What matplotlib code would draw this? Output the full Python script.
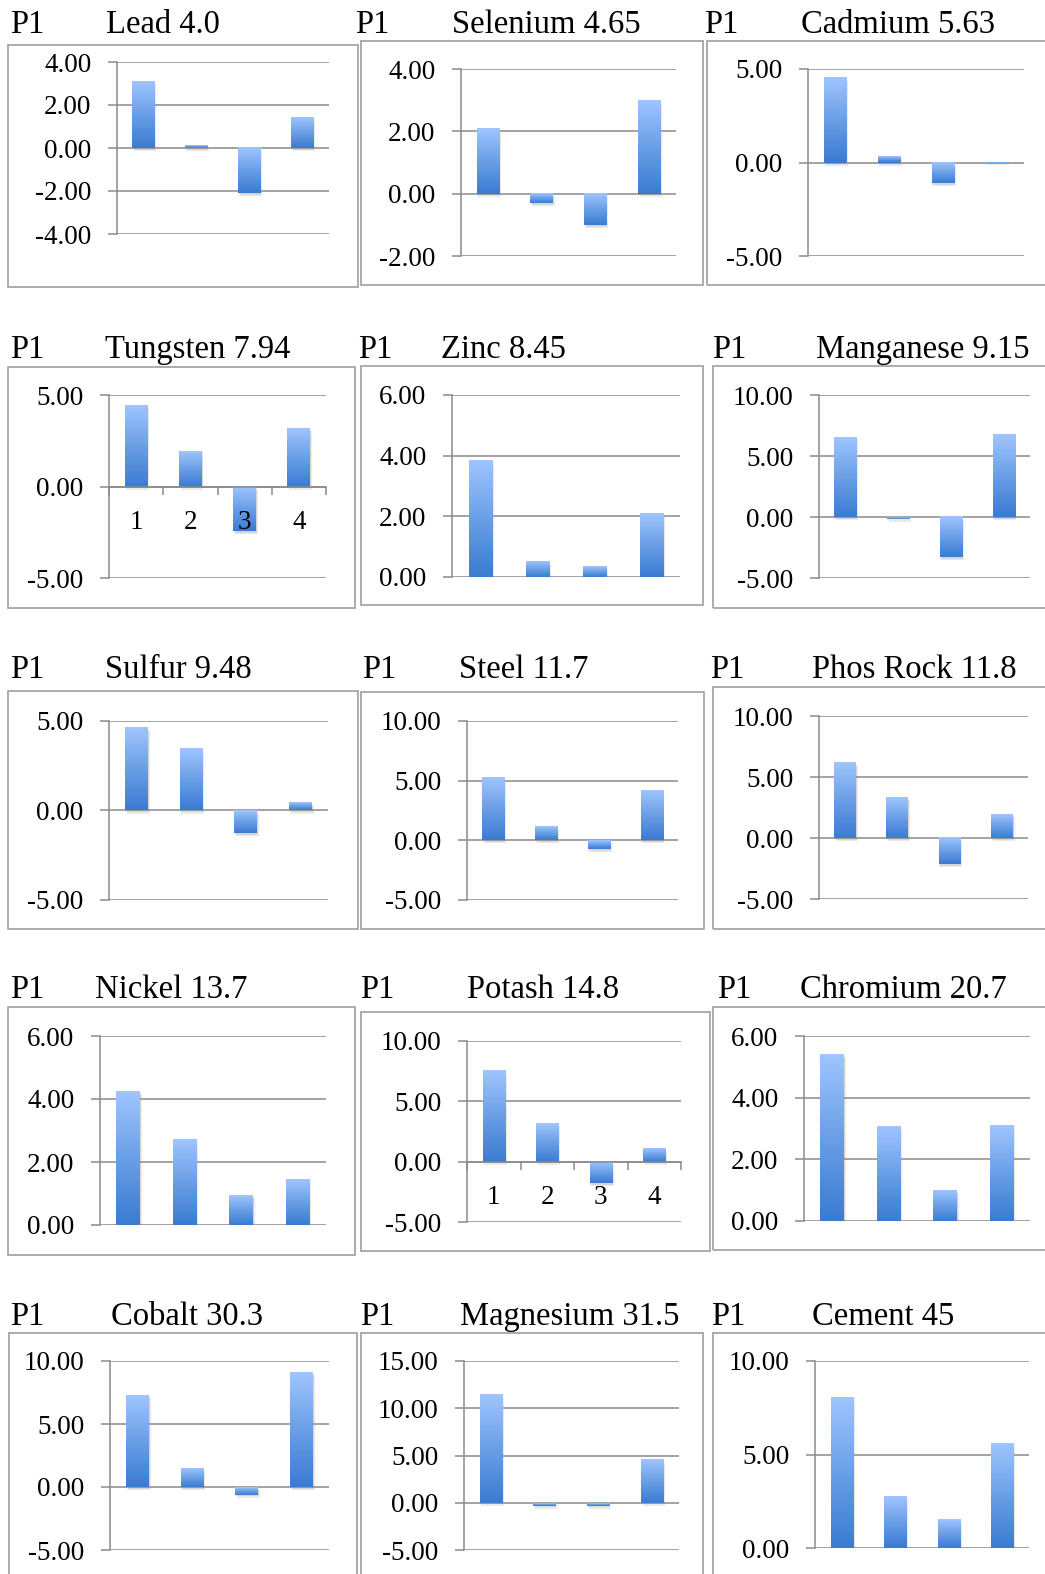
import numpy as np
import matplotlib
matplotlib.use("Agg")
import matplotlib.pyplot as plt
import matplotlib.patheffects as pe
from matplotlib.colors import LinearSegmentedColormap
from matplotlib.patches import Rectangle

plt.rcParams["font.family"] = ["Liberation Serif", "DejaVu Serif"]
plt.rcParams["axes.unicode_minus"] = False

# ---- data -------------------------------------------------------------
materials = ["Lead", "Selenium", "Cadmium",
             "Tungsten", "Zinc", "Manganese",
             "Sulfur", "Steel", "Phos Rock",
             "Nickel", "Potash", "Chromium",
             "Cobalt", "Magnesium", "Cement"]
scores = ["4.0", "4.65", "5.63",
          "7.94", "8.45", "9.15",
          "9.48", "11.7", "11.8",
          "13.7", "14.8", "20.7",
          "30.3", "31.5", "45"]
period = "P1"
categories = ["1", "2", "3", "4"]

lead = [3.1, 0.1, -2.1, 1.4]
selenium = [2.1, -0.3, -1.0, 3.0]
cadmium = [4.5, 0.3, -1.1, -0.05]
tungsten = [4.45, 1.95, -2.45, 3.2]
zinc = [3.85, 0.5, 0.35, 2.1]
manganese = [6.55, -0.15, -3.3, 6.8]
sulfur = [4.6, 3.45, -1.25, 0.4]
steel = [5.2, 1.1, -0.75, 4.15]
phos_rock = [6.15, 3.35, -2.15, 1.95]
nickel = [4.25, 2.7, 0.95, 1.45]
potash = [7.55, 3.2, -1.8, 1.1]
chromium = [5.4, 3.05, 1.0, 3.1]
cobalt = [7.3, 1.5, -0.6, 9.1]
magnesium = [11.5, -0.3, -0.3, 4.6]
cement = [8.05, 2.75, 1.5, 5.6]

values = [lead, selenium, cadmium, tungsten, zinc, manganese,
          sulfur, steel, phos_rock, nickel, potash, chromium,
          cobalt, magnesium, cement]

# value axis (min, max, step) for each small chart
y_ranges = [(-4, 4, 2), (-2, 4, 2), (-5, 5, 5),
            (-5, 5, 5), (0, 6, 2), (-5, 10, 5),
            (-5, 5, 5), (-5, 10, 5), (-5, 10, 5),
            (0, 6, 2), (-5, 10, 5), (0, 6, 2),
            (-5, 10, 5), (-5, 15, 5), (0, 10, 5)]

# charts that show the 1..4 category labels
labelled = {"Tungsten", "Potash"}

# ---- layout (pixels on a 1045 x 1574 page) ----------------------------
W, H = 1045, 1574

# frame around each chart: left, top, right, bottom
frames = [(8, 45, 358, 287), (361, 41, 703, 285), (707, 41, 1050, 285),
          (8, 367, 355, 608), (361, 366, 703, 605), (713, 366, 1050, 608),
          (8, 691, 358, 929), (361, 692, 704, 929), (713, 687, 1050, 929),
          (8, 1007, 355, 1255), (361, 1012, 710, 1251), (713, 1007, 1050, 1250),
          (9, 1333, 357, 1600), (361, 1333, 703, 1600), (713, 1333, 1050, 1600)]

# plot area: x of value axis, right end of grid, y of max, y of min
plot_px = [(117, 329, 62, 234), (461, 676, 69, 256), (808, 1024, 69, 256),
           (109, 326, 395, 578), (452, 680, 395, 577), (819, 1030, 395, 578),
           (109, 328, 721, 900), (467, 678, 721, 900), (819, 1028, 716, 899),
           (100, 326, 1036, 1225), (467, 681, 1041, 1222), (804, 1030, 1036, 1221),
           (110, 329, 1361, 1550), (464, 679, 1361, 1550), (815, 1029, 1361, 1548)]

# heading: x of "P1", x of name, baseline y
heads = [(10, 106, 33), (355, 452, 33), (704, 801, 33),
         (10, 105, 358), (358, 441, 358), (712, 816, 358),
         (10, 105, 678), (362, 459, 678), (710, 812, 678),
         (10, 95, 998), (360, 467, 998), (717, 800, 998),
         (10, 111, 1325), (360, 460, 1325), (711, 812, 1325)]

GRID = "#8a8a8a"
FRAME = "#a6a6a6"
bar_cmap = LinearSegmentedColormap.from_list("bar", ["#3a7bd2", "#6a9fe6", "#a0c5ff"])
gradient = np.linspace(0, 1, 256).reshape(-1, 1)

fig = plt.figure(figsize=(W / 100, H / 100), dpi=100)


def fx(x):
    return x / W


def fy(y):
    return 1 - y / H


def draw_panel(i):
    l, t, r, b = frames[i]
    fig.patches.append(Rectangle((fx(l), fy(b)), fx(r - l), (b - t) / H,
                                 transform=fig.transFigure, fill=False,
                                 ec=FRAME, lw=1.3))

    px, nx, base = heads[i]
    fig.text(fx(px), fy(base), period, fontsize=23.5, va="baseline")
    fig.text(fx(nx), fy(base), f"{materials[i]} {scores[i]}",
             fontsize=23.5, va="baseline")

    x0, x1, yt, yb = plot_px[i]
    ax = fig.add_axes([fx(x0), fy(yb), fx(x1 - x0), (yb - yt) / H])
    ax.set_axisbelow(False)
    ax.patch.set_alpha(0)

    lo, hi, step = y_ranges[i]
    ticks = np.arange(lo, hi + step / 2, step)
    for v in ticks:
        ax.axhline(v, color=GRID, lw=1.1, zorder=0.5)

    pos = np.arange(len(values[i]))
    shadow = [pe.SimplePatchShadow(offset=(1.2, -2.2), shadow_rgbFace="0.55",
                                   alpha=0.18),
              pe.SimplePatchShadow(offset=(0.6, -1.2), shadow_rgbFace="0.5",
                                   alpha=0.18),
              pe.Normal()]
    bars = ax.bar(pos, values[i], width=0.42, color="#3a7bd2", zorder=1,
                  path_effects=shadow)
    # light-to-dark fill on every bar, light end on top
    for bar in bars:
        bx, bw = bar.get_x(), bar.get_width()
        y0 = min(bar.get_y(), bar.get_y() + bar.get_height())
        y1 = max(bar.get_y(), bar.get_y() + bar.get_height())
        ax.imshow(gradient, extent=(bx, bx + bw, y0, y1), origin="lower",
                  cmap=bar_cmap, aspect="auto", zorder=1.5,
                  interpolation="bilinear")

    ax.set_xlim(-0.5, len(pos) - 0.5)
    ax.set_ylim(lo, hi)

    ax.set_yticks(ticks)
    ax.set_yticklabels([f"{v:.2f}" for v in ticks])
    ax.tick_params(axis="y", length=6.5, width=1.1, color=GRID, pad=12,
                   labelsize=19.5)

    for side in ("top", "right"):
        ax.spines[side].set_visible(False)
    ax.spines["left"].set_color(GRID)
    ax.spines["left"].set_linewidth(1.1)

    if materials[i] in labelled:
        ax.spines["bottom"].set_position(("data", 0))
        ax.spines["bottom"].set_color(GRID)
        ax.spines["bottom"].set_linewidth(1.1)
        ax.set_xticks(pos)
        ax.set_xticklabels(categories)
        ax.tick_params(axis="x", which="major", length=0, pad=17,
                       labelsize=19.5)
        ax.set_xticks(np.arange(len(pos) + 1) - 0.5, minor=True)
        ax.tick_params(axis="x", which="minor", length=6, width=1.1,
                       color=GRID, direction="out")
    else:
        ax.spines["bottom"].set_visible(False)
        ax.set_xticks([])


for i in range(len(materials)):
    draw_panel(i)

fig.savefig("out.png", dpi=100)
plt.close(fig)
